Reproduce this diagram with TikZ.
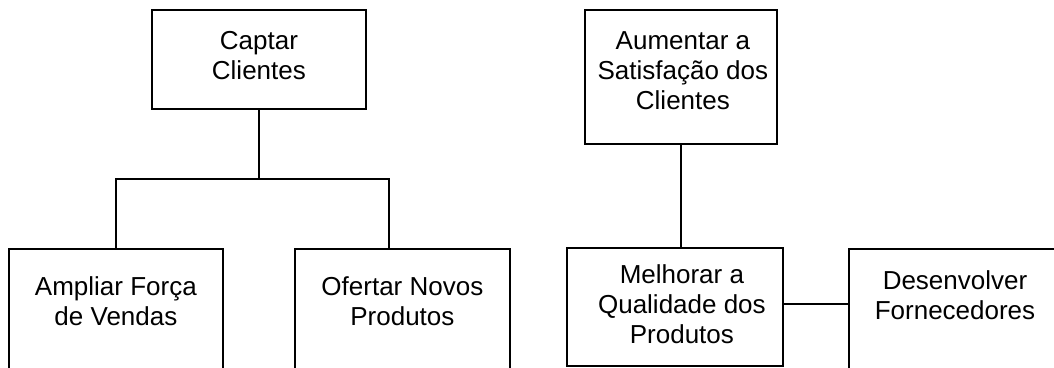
\documentclass[tikz,border=0pt]{standalone}
\usepackage{fontspec}
\setmainfont{Liberation Sans}
\usetikzlibrary{calc}
\begin{document}
\begin{tikzpicture}[x=1pt,y=-1pt,
  box/.style={draw=black,line width=1.8pt,rectangle,inner sep=0pt,anchor=north west},
  lbl/.style={align=center,inner sep=0pt,anchor=north,font=\fontsize{26}{30}\selectfont},
  link/.style={draw=black,line width=1.8pt}]
\useasboundingbox (0,0) rectangle (1054,367);
\clip (0,0) rectangle (1054,367);

% left tree
\node[box,minimum width=214pt,minimum height=99pt] (cap) at (151,9) {};
\node[box,minimum width=214pt,minimum height=160pt] (amp) at (8,248) {};
\node[box,minimum width=215pt,minimum height=160pt] (ofe) at (294,248) {};
\node[lbl] (capT) at ([yshift=-22pt]cap.north) {Captar\\Clientes};
\node[lbl] (ampT) at ([yshift=-28.4pt]amp.north) {Ampliar Força\\de Vendas};
\node[lbl] (ofeT) at ([yshift=-28.4pt]ofe.north) {Ofertar Novos\\Produtos};

\coordinate (split) at ([yshift=-69pt]cap.south);
\coordinate (ofeDrop) at ([xshift=95pt]ofe.north west);
\draw[link] (cap.south) -- (split);
\draw[link] (amp.north) |- (split) -| (ofeDrop);

% right tree
\node[box,minimum width=192pt,minimum height=134pt] (aum) at (584,9) {};
\node[box,minimum width=216pt,minimum height=118pt] (mel) at (566,247) {};
\node[box,minimum width=240pt,minimum height=160pt] (des) at (848,248) {};
\node[lbl] (aumT) at ([xshift=2pt,yshift=-22.4pt]aum.north) {Aumentar a\\Satisfação dos\\Clientes};
\node[lbl] (melT) at ([xshift=7pt,yshift=-17.4pt]mel.north) {Melhorar a\\Qualidade dos\\Produtos};
\node[lbl] (desT) at ([xshift=107pt,yshift=-22.4pt]des.north west) {Desenvolver\\Fornecedores};

\draw[link] (aum.south) -- (aum.south |- mel.north);
\draw[link] ([yshift=-57pt]mel.north east) -- ([yshift=-56pt]des.north west);
\end{tikzpicture}
\end{document}
